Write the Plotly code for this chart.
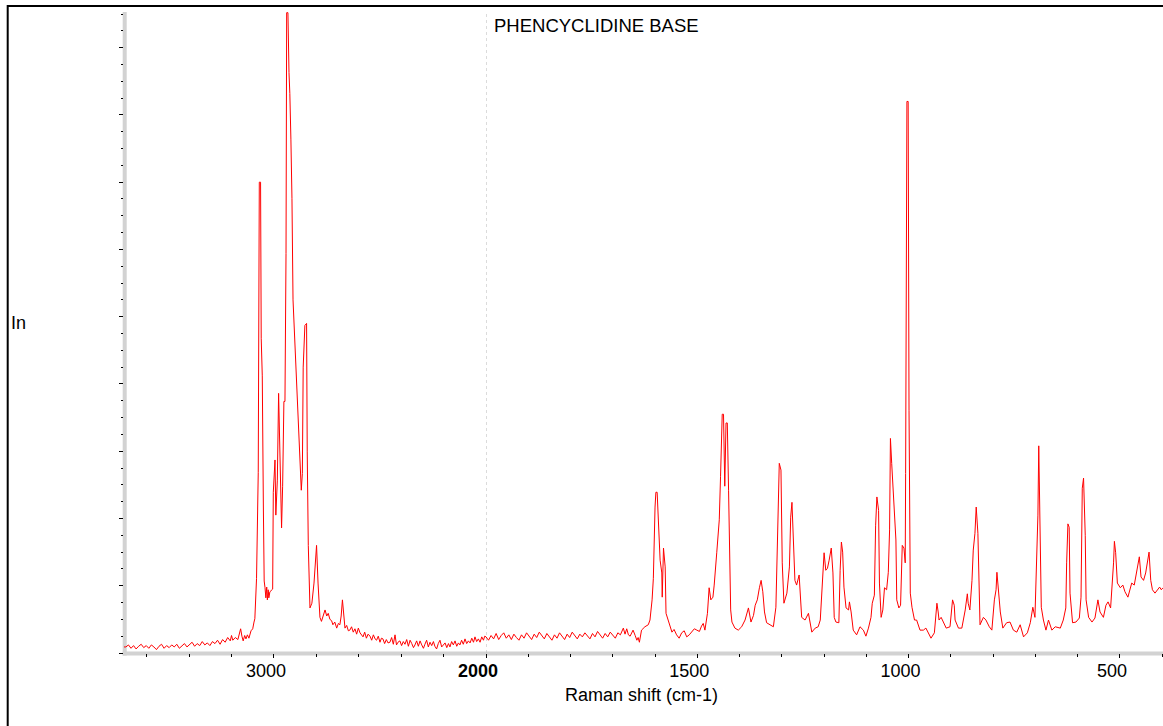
import plotly.graph_objects as go

# ---------------- data ----------------
# Raman shift in cm-1, intensity in arbitrary units (1 unit = one major y tick)

# 1) baseline above the C-H stretch region
base_hi_shift = [3707, 3698, 3686, 3674, 3662, 3650, 3638, 3626, 3614, 3602,
                 3590, 3578, 3566, 3554, 3542, 3530, 3518, 3506, 3494, 3482,
                 3470, 3458, 3446, 3434, 3422, 3410, 3398, 3386, 3374, 3362,
                 3350, 3338, 3326, 3314, 3302, 3290, 3278, 3266, 3254, 3242,
                 3230, 3218, 3206, 3200, 3194, 3182, 3170, 3163, 3157, 3151,
                 3145, 3138, 3132, 3125, 3118, 3108, 3100, 3094, 3090]
base_hi_int = [0.09, 0.09, 0.12, 0.07, 0.11, 0.06, 0.10, 0.13, 0.08, 0.11,
               0.07, 0.12, 0.09, 0.05, 0.10, 0.13, 0.07, 0.11, 0.08, 0.12,
               0.09, 0.13, 0.07, 0.11, 0.14, 0.09, 0.12, 0.16, 0.10, 0.14,
               0.11, 0.17, 0.12, 0.15, 0.11, 0.17, 0.14, 0.19, 0.13, 0.20,
               0.16, 0.23, 0.18, 0.26, 0.19, 0.23, 0.20, 0.28, 0.36, 0.25,
               0.18, 0.26, 0.21, 0.27, 0.22, 0.33, 0.36, 0.46, 0.51]

# 2) C-H stretch region
ch_shift = [3082, 3074, 3069, 3063, 3060, 3055, 3050, 3046, 3042, 3038,
            3034, 3031, 3027, 3024, 3019, 3006, 3003, 2995, 2991, 2984,
            2978, 2975, 2972, 2964, 2959, 2953, 2948, 2943, 2940, 2934,
            2929, 2925, 2920, 2915, 2910, 2902, 2896, 2890, 2884, 2877,
            2871, 2866, 2862, 2854, 2846, 2843, 2838, 2830, 2821, 2811,
            2804, 2799, 2792]
ch_int = [1.11, 2.68, 7.00, 7.00, 4.68, 4.12, 2.23, 1.07, 0.97, 0.82,
          0.98, 0.79, 0.94, 0.82, 0.91, 0.95, 2.39, 2.87, 2.05, 2.57,
          3.86, 3.43, 2.67, 1.86, 2.48, 3.74, 3.74, 5.94, 9.52, 9.52,
          8.63, 8.32, 7.64, 6.76, 5.25, 4.68, 4.18, 3.61, 3.36, 2.79,
          2.42, 2.67, 4.25, 4.87, 4.90, 2.99, 1.60, 0.67, 0.74, 1.04,
          1.38, 1.60, 1.04]

# 3) baseline between 2790 and 2000 cm-1
base_mid_shift = [2783, 2776, 2769, 2759, 2751, 2744, 2736, 2728, 2722, 2713,
                  2704, 2696, 2689, 2683, 2677, 2671, 2665, 2657, 2649, 2642,
                  2634, 2626, 2618, 2610, 2602, 2594, 2587, 2580, 2572, 2564,
                  2556, 2547, 2539, 2531, 2523, 2516, 2508, 2500, 2493, 2486,
                  2478, 2470, 2462, 2453, 2445, 2437, 2429, 2422, 2415, 2406,
                  2398, 2390, 2382, 2374, 2366, 2358, 2350, 2342, 2335, 2327,
                  2319, 2311, 2303, 2295, 2288, 2280, 2272, 2264, 2256, 2248,
                  2241, 2233, 2225, 2217, 2209, 2201, 2193, 2185, 2177, 2170,
                  2162, 2154, 2146, 2138, 2130, 2123, 2115, 2107, 2099, 2091,
                  2083, 2075, 2067, 2059, 2052, 2044, 2036, 2028, 2020, 2012,
                  2006, 2000]
base_mid_int = [0.53, 0.47, 0.53, 0.64, 0.55, 0.59, 0.50, 0.48, 0.42, 0.46,
                0.37, 0.44, 0.42, 0.55, 0.79, 0.50, 0.37, 0.41, 0.33, 0.34,
                0.39, 0.31, 0.36, 0.28, 0.37, 0.30, 0.26, 0.24, 0.31, 0.22,
                0.28, 0.25, 0.19, 0.27, 0.21, 0.19, 0.25, 0.16, 0.22, 0.21,
                0.14, 0.20, 0.15, 0.16, 0.23, 0.13, 0.27, 0.12, 0.16, 0.18,
                0.11, 0.17, 0.13, 0.20, 0.10, 0.19, 0.14, 0.08, 0.12, 0.18,
                0.10, 0.18, 0.12, 0.07, 0.13, 0.19, 0.09, 0.16, 0.11, 0.17,
                0.10, 0.06, 0.14, 0.19, 0.09, 0.13, 0.15, 0.08, 0.14, 0.09,
                0.17, 0.12, 0.18, 0.10, 0.15, 0.12, 0.19, 0.13, 0.21, 0.14,
                0.18, 0.15, 0.22, 0.16, 0.24, 0.17, 0.21, 0.16, 0.24, 0.19,
                0.25, 0.24]

# 4) baseline between 2000 and 1630 cm-1
base_lo_shift = [2000, 1994, 1988, 1982, 1976, 1970, 1964, 1958, 1952, 1946,
                 1940, 1934, 1928, 1922, 1916, 1910, 1904, 1898, 1892, 1886,
                 1880, 1874, 1868, 1862, 1856, 1850, 1844, 1838, 1832, 1826,
                 1820, 1814, 1808, 1802, 1796, 1790, 1784, 1778, 1772, 1766,
                 1760, 1754, 1748, 1742, 1736, 1730, 1724, 1718, 1712, 1706,
                 1700, 1694, 1688, 1682, 1675, 1671, 1667, 1663, 1659, 1655,
                 1652, 1647, 1643, 1640, 1637]
base_lo_int = [0.24, 0.19, 0.26, 0.21, 0.29, 0.20, 0.26, 0.30, 0.22, 0.27,
               0.20, 0.28, 0.23, 0.19, 0.27, 0.22, 0.30, 0.24, 0.20, 0.28,
               0.23, 0.31, 0.25, 0.21, 0.29, 0.24, 0.19, 0.27, 0.22, 0.30,
               0.25, 0.20, 0.28, 0.23, 0.31, 0.26, 0.21, 0.28, 0.24, 0.30,
               0.25, 0.21, 0.29, 0.24, 0.32, 0.26, 0.22, 0.29, 0.24, 0.31,
               0.26, 0.22, 0.30, 0.27, 0.37, 0.28, 0.36, 0.27, 0.25, 0.31,
               0.34, 0.26, 0.19, 0.23, 0.16]

# 5) fingerprint region
fp_shift = [1632, 1624, 1616, 1612, 1607, 1604, 1600, 1598, 1595, 1591,
            1588, 1584, 1583, 1580, 1576, 1574, 1569, 1565, 1560, 1555,
            1549, 1543, 1537, 1531, 1525, 1519, 1513, 1507, 1501, 1495,
            1490, 1486, 1482, 1476, 1472, 1468, 1463, 1460, 1454, 1448,
            1445, 1441, 1438, 1435, 1432, 1429, 1426, 1421, 1418, 1411,
            1403, 1395, 1387, 1379, 1373, 1367, 1363, 1358, 1353, 1349,
            1345, 1341, 1336, 1328, 1320, 1314, 1310, 1306, 1302, 1299,
            1295, 1288, 1282, 1279, 1276, 1273, 1269, 1265, 1259, 1253,
            1245, 1237, 1229, 1221, 1214, 1209, 1203, 1200, 1196, 1192,
            1188, 1183, 1179, 1176, 1172, 1165, 1162, 1159, 1156, 1153,
            1148, 1142, 1140, 1136, 1131, 1123, 1115, 1107, 1101, 1095,
            1089, 1086, 1081, 1078, 1075, 1071, 1069, 1065, 1061, 1057,
            1052, 1048, 1045, 1043, 1040, 1037, 1034, 1030, 1028, 1023,
            1019, 1015, 1011, 1008, 1007, 1006, 1005, 1004, 1001, 999,
            996, 992, 986, 981, 973, 965, 959, 953, 947, 939,
            933, 930, 928, 923, 918, 911, 902, 898, 896, 892,
            890, 882, 874, 866, 861, 859, 855, 850, 847, 843,
            840, 836, 834, 831, 823, 817, 809, 803, 797, 793,
            791, 787, 783, 777, 768, 760, 752, 744, 736, 728,
            719, 712, 706, 701, 697, 694, 692, 689, 686, 681,
            675, 669, 661, 653, 641, 634, 628, 626, 623, 620,
            618, 612, 604, 596, 592, 589, 586, 582, 580, 574,
            566, 559, 552, 547, 539, 533, 528, 522, 518, 515,
            513, 510, 506, 499, 493, 488, 481, 477, 472, 466,
            458, 454, 450, 444, 439, 434, 431, 427, 423, 417,
            411, 406, 402, 398]
fp_int = [0.34, 0.39, 0.42, 0.49, 0.79, 1.11, 2.17, 2.39, 2.39, 1.72,
          1.38, 1.19, 0.83, 1.56, 1.28, 0.59, 0.49, 0.38, 0.31, 0.35,
          0.27, 0.22, 0.30, 0.33, 0.24, 0.27, 0.31, 0.36, 0.34, 0.32,
          0.40, 0.44, 0.34, 0.59, 0.97, 0.79, 0.83, 1.01, 1.49, 1.98,
          2.62, 3.55, 3.55, 2.48, 3.42, 3.42, 2.42, 0.64, 0.46, 0.37,
          0.34, 0.39, 0.49, 0.67, 0.46, 0.56, 0.71, 0.79, 0.97, 1.08,
          0.91, 0.61, 0.45, 0.42, 0.39, 0.68, 2.05, 2.82, 2.72, 1.34,
          0.74, 0.89, 1.28, 2.02, 2.24, 1.65, 1.08, 1.01, 1.16, 0.53,
          0.49, 0.59, 0.31, 0.37, 0.39, 0.49, 1.26, 1.49, 1.23, 1.26,
          1.38, 1.56, 1.19, 0.53, 0.46, 0.45, 1.23, 1.65, 1.50, 0.98,
          0.67, 0.64, 0.76, 0.61, 0.34, 0.27, 0.39, 0.34, 0.25, 0.37,
          0.53, 0.74, 0.86, 1.90, 2.32, 2.12, 1.04, 0.53, 0.64, 0.97,
          0.94, 1.20, 1.83, 3.19, 2.82, 2.42, 2.02, 1.68, 0.79, 0.67,
          0.71, 1.60, 1.56, 1.34, 2.67, 6.02, 5.05, 8.20, 8.20, 3.61,
          0.89, 0.68, 0.49, 0.49, 0.34, 0.34, 0.37, 0.30, 0.22, 0.30,
          0.74, 0.61, 0.49, 0.53, 0.46, 0.37, 0.39, 0.64, 0.79, 0.71,
          0.49, 0.37, 0.37, 0.64, 0.88, 0.74, 0.64, 1.08, 1.53, 1.78,
          2.17, 1.78, 1.13, 0.42, 0.53, 0.49, 0.39, 0.34, 0.79, 0.94,
          1.20, 0.83, 0.61, 0.37, 0.45, 0.46, 0.34, 0.31, 0.42, 0.24,
          0.30, 0.45, 0.68, 0.53, 1.58, 2.05, 3.08, 2.02, 0.68, 0.49,
          0.34, 0.49, 0.34, 0.39, 0.37, 0.49, 0.67, 1.34, 1.92, 1.87,
          0.89, 0.45, 0.46, 0.52, 0.83, 2.45, 2.60, 1.75, 0.79, 0.53,
          0.46, 0.52, 0.79, 0.61, 0.53, 0.71, 0.76, 0.67, 0.98, 1.34,
          1.66, 1.49, 1.04, 0.97, 1.01, 0.91, 0.83, 0.94, 1.04, 1.01,
          1.28, 1.43, 1.13, 1.08, 1.19, 1.38, 1.50, 1.08, 0.94, 0.89,
          0.94, 0.98, 0.94, 0.97]

for a, b in [(base_hi_shift, base_hi_int), (ch_shift, ch_int),
             (base_mid_shift, base_mid_int), (base_lo_shift, base_lo_int),
             (fp_shift, fp_int)]:
    assert len(a) == len(b), (len(a), len(b))

# compressed high-wavenumber part (3700-2000) and expanded low part (2000-400)
shift_high = base_hi_shift + ch_shift + base_mid_shift
inten_high = base_hi_int + ch_int + base_mid_int
shift_low = base_lo_shift + fp_shift
inten_low = base_lo_int + fp_int

# tick positions / labels
high_major_ticks = [3000]
high_major_labels = ["3000"]
high_minor_ticks = [3600, 3400, 3200, 2800, 2600, 2400, 2200]
low_major_ticks = [2000, 1500, 1000, 500]
low_major_labels = ["<b>2000</b>", "1500", "1000", "500"]
low_minor_ticks = [1900, 1800, 1700, 1600, 1400, 1300, 1200, 1100,
                   900, 800, 700, 600, 400]
y_major_ticks = [0, 1, 2, 3, 4, 5, 6, 7, 8, 9]

high_range = [3707, 2000]
low_range = [2000, 398]
y_range = [0, 9.53]

title_text = "PHENCYCLIDINE BASE"
x_title = "Raman shift (cm-1)"
y_title = "In"

# ---------------- layout geometry ----------------
W, H = 1163, 726
ML, MR, MT, MB = 124, 0, 12, 73
PW, PH = W - ML - MR, H - MT - MB
split = (486 - ML) / PW


def px_x(px):
    return (px - ML) / PW


def px_y(py):
    return (H - MB - py) / PH


FONT = "Liberation Sans, Arial, sans-serif"
AXIS_GREY = "#d2d2d2"

fig = go.Figure()
fig.add_trace(go.Scatter(x=shift_high, y=inten_high, mode="lines",
                         line=dict(color="#ff0000", width=1),
                         xaxis="x", yaxis="y", hoverinfo="skip"))
fig.add_trace(go.Scatter(x=shift_low, y=inten_low, mode="lines",
                         line=dict(color="#ff0000", width=1),
                         xaxis="x2", yaxis="y", hoverinfo="skip"))

common_x = dict(showline=False, ticks="outside", ticklen=4,
                tickcolor="black", tickwidth=1,
                showgrid=False, zeroline=False, fixedrange=True,
                tickfont=dict(family=FONT, size=18, color="black"),
                ticklabelshift=8, ticklabelstandoff=-3, anchor="y")

fig.update_layout(
    width=W, height=H,
    margin=dict(l=ML, r=MR, t=MT, b=MB, pad=0),
    paper_bgcolor="white", plot_bgcolor="rgba(0,0,0,0)",
    showlegend=False,
    font=dict(family=FONT, size=18, color="black"),
    xaxis=dict(domain=[0, split], range=high_range, tickmode="array",
               tickvals=high_major_ticks, ticktext=high_major_labels,
               minor=dict(tickmode="array", tickvals=high_minor_ticks,
                          ticks="outside", ticklen=3, tickcolor="black",
                          tickwidth=1, showgrid=False),
               **common_x),
    xaxis2=dict(domain=[split, 1], range=low_range, tickmode="array",
                tickvals=low_major_ticks, ticktext=low_major_labels,
                minor=dict(tickmode="array", tickvals=low_minor_ticks,
                           ticks="outside", ticklen=3, tickcolor="black",
                           tickwidth=1, showgrid=False),
                **common_x),
    yaxis=dict(domain=[0, 1], range=y_range, anchor="x",
               showline=False,
               ticks="outside", ticklen=4, tickcolor="black", tickwidth=1,
               tickmode="array", tickvals=y_major_ticks,
               showticklabels=False, showgrid=False, zeroline=False,
               fixedrange=True,
               minor=dict(dtick=0.25, tick0=0, ticks="outside", ticklen=2,
                          tickcolor="black", tickwidth=1, showgrid=False)),
    shapes=[
        # grey axis bands
        dict(type="rect", xref="paper", yref="paper",
             x0=px_x(122.7), x1=px_x(126.7), y0=px_y(655.5), y1=1,
             line=dict(width=0), fillcolor=AXIS_GREY, layer="below"),
        dict(type="rect", xref="paper", yref="paper",
             x0=px_x(122.7), x1=1, y0=px_y(655.5), y1=px_y(651.5),
             line=dict(width=0), fillcolor=AXIS_GREY, layer="below"),
        # dotted line at the axis break
        dict(type="line", xref="x2", yref="paper", x0=2000, x1=2000,
             y0=0, y1=1, layer="below",
             line=dict(color="#b8b8b8", width=1, dash="dot")),
        # outer frame
        dict(type="rect", xref="paper", yref="paper",
             x0=px_x(7.7), x1=px_x(W + 20), y0=px_y(H + 20), y1=px_y(6),
             line=dict(color="black", width=2), fillcolor="rgba(0,0,0,0)",
             layer="above"),
    ],
    annotations=[
        dict(text=title_text, xref="paper", yref="paper",
             x=px_x(492), y=px_y(26), xanchor="left", yanchor="middle",
             showarrow=False, font=dict(family=FONT, size=18.5, color="black")),
        dict(text=x_title, xref="paper", yref="paper",
             x=px_x(641), y=px_y(695), xanchor="center", yanchor="middle",
             showarrow=False, font=dict(family=FONT, size=18, color="black")),
        dict(text=y_title, xref="paper", yref="paper",
             x=px_x(9), y=px_y(323), xanchor="left", yanchor="middle",
             showarrow=False, font=dict(family=FONT, size=18, color="black")),
    ],
)

fig.write_html("out.html", config={"displayModeBar": False})
